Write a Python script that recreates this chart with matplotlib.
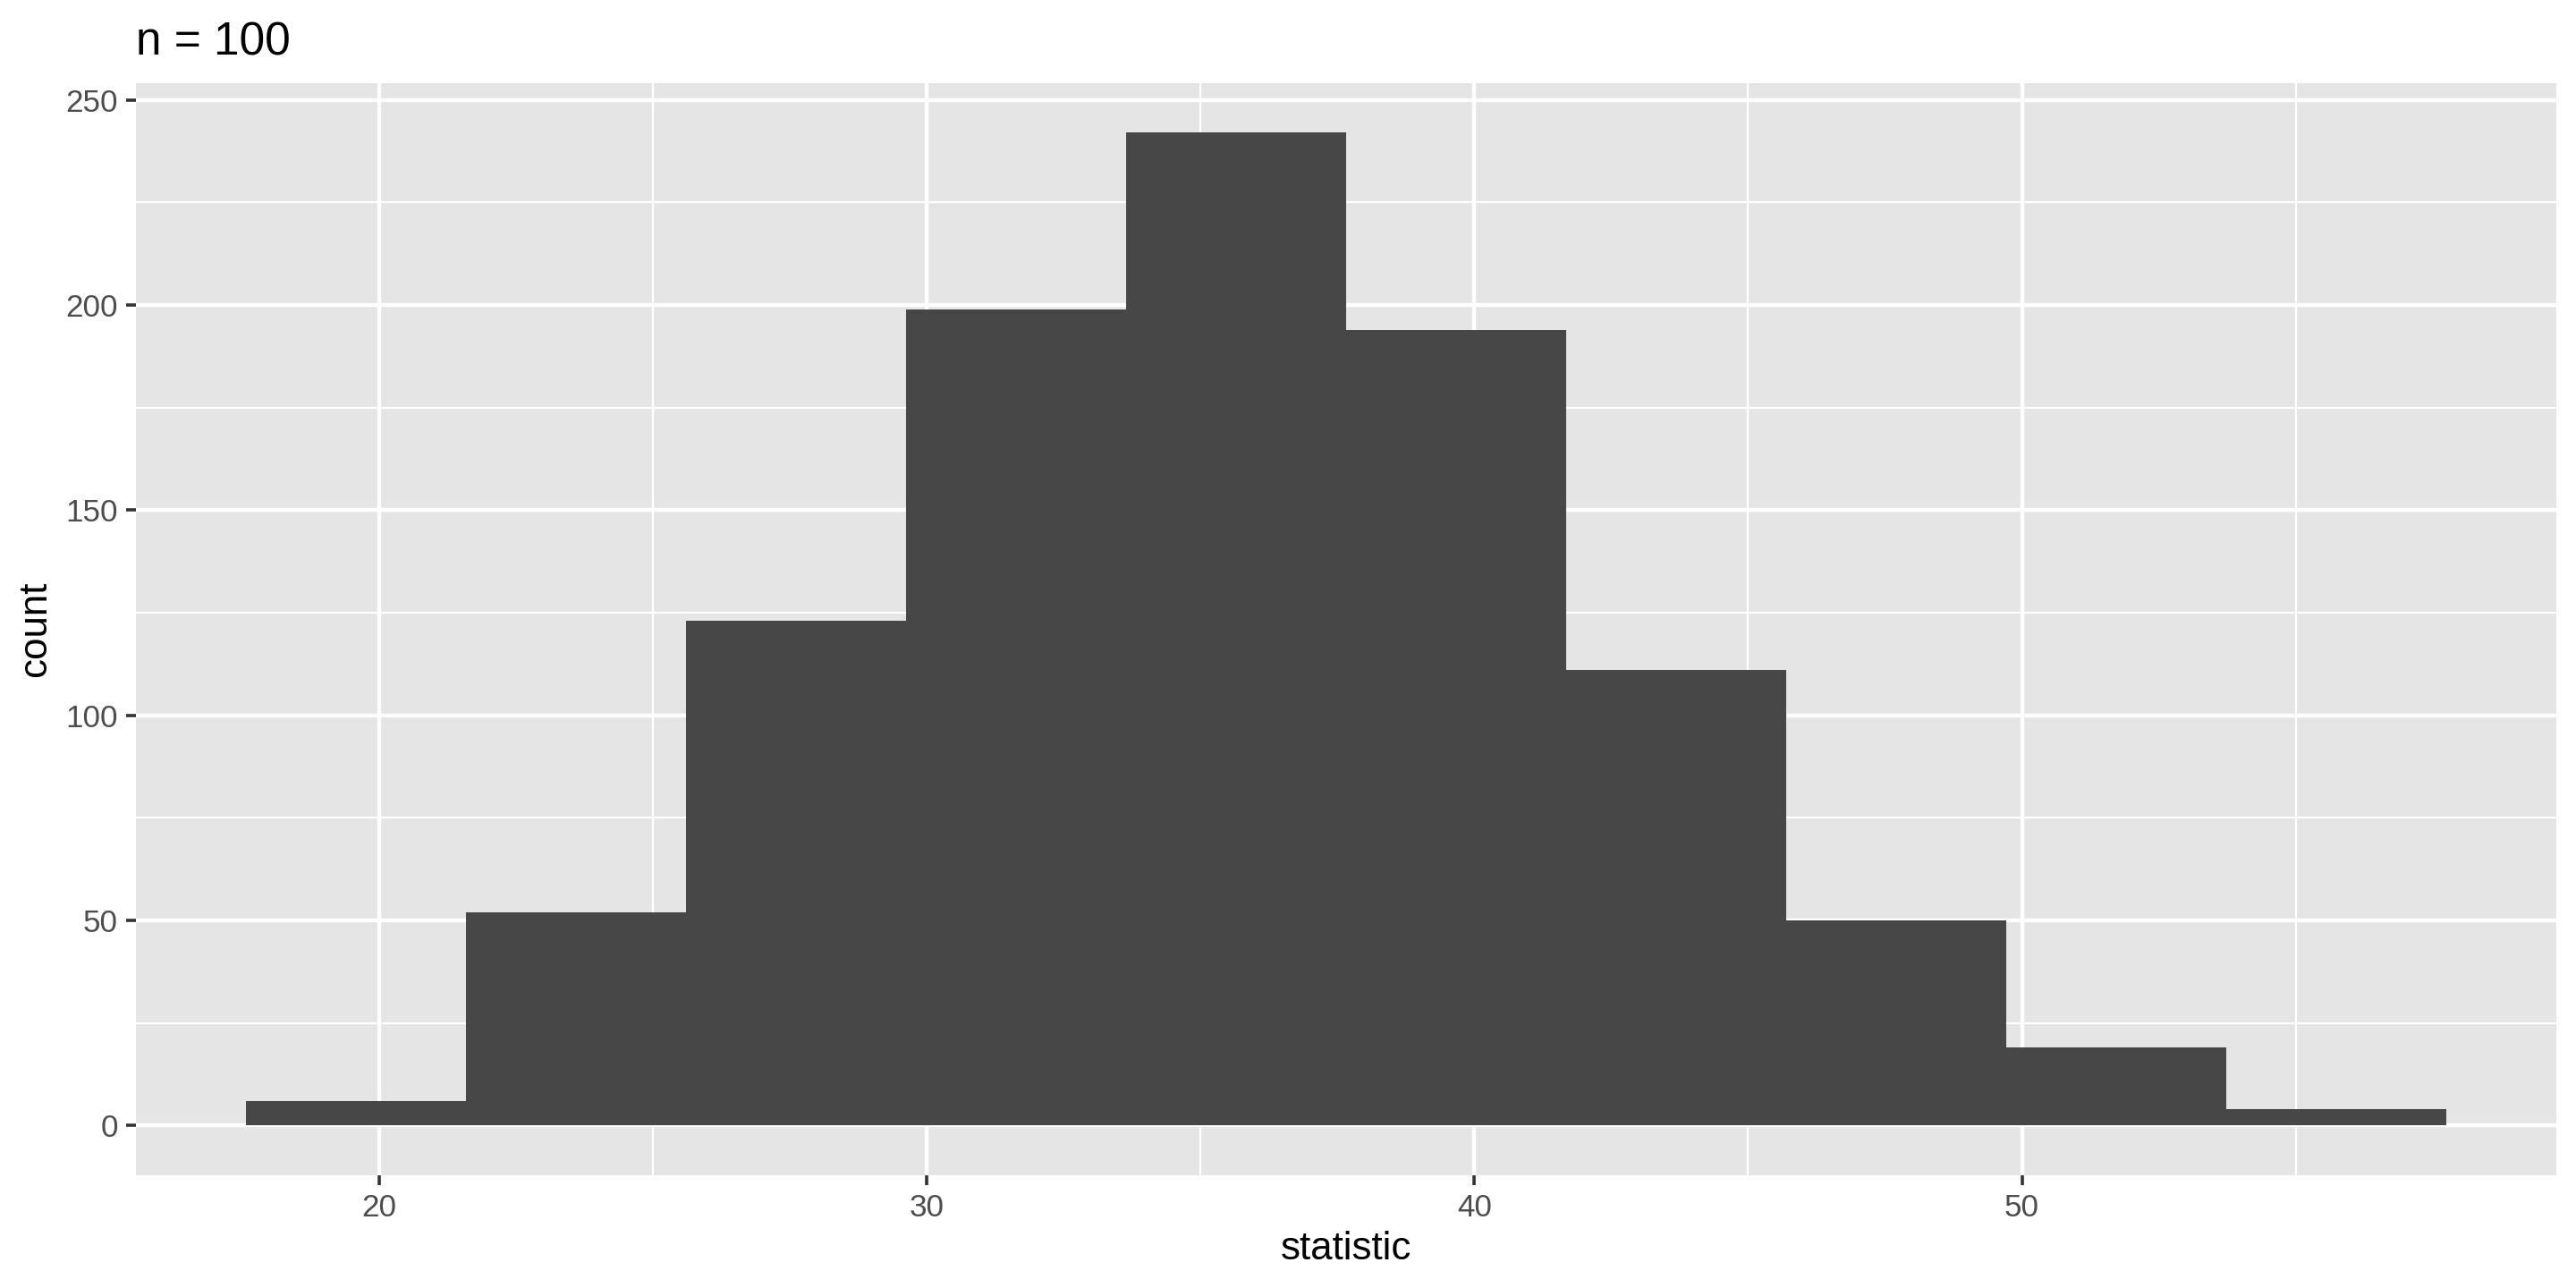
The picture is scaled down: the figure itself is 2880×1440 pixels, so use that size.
import matplotlib
matplotlib.use("Agg")
import matplotlib.pyplot as plt
from matplotlib.ticker import MultipleLocator

# histogram of the statistic (bins)
bin_edges = [17.57, 21.59, 25.61, 29.62, 33.64, 37.66, 41.68, 45.70, 49.71, 53.73, 57.75]
counts = [6, 52, 123, 199, 242, 194, 111, 50, 19, 4]
x_ticks = [20, 30, 40, 50]
y_ticks = [0, 50, 100, 150, 200, 250]

title = "n = 100"
x_label = "statistic"
y_label = "count"

plt.rcParams["font.family"] = ["Liberation Sans", "DejaVu Sans"]

fig = plt.figure(figsize=(14.4, 7.2), dpi=200)
fig.patch.set_facecolor("white")
ax = fig.add_axes([0.05278, 0.0877, 0.93958, 0.84772])
ax.set_facecolor("#E5E5E5")

lefts = bin_edges[:-1]
widths = [b - a for a, b in zip(bin_edges[:-1], bin_edges[1:])]
ax.bar(lefts, counts, width=widths, align="edge", color="#474747",
       linewidth=0, zorder=3)

# ggplot-like 5% expansion
span = bin_edges[-1] - bin_edges[0]
ax.set_xlim(bin_edges[0] - 0.05 * span, bin_edges[-1] + 0.05 * span)
ymax = max(counts)
ax.set_ylim(-0.05 * ymax, 1.05 * ymax)

ax.set_xticks(x_ticks)
ax.set_yticks(y_ticks)
ax.xaxis.set_minor_locator(MultipleLocator(5))
ax.yaxis.set_minor_locator(MultipleLocator(25))
ax.grid(which="major", color="white", linewidth=1.6, zorder=1)
ax.grid(which="minor", color="white", linewidth=0.8, zorder=1)
ax.set_axisbelow(True)

for s in ax.spines.values():
    s.set_visible(False)

ax.tick_params(which="major", length=4.1, width=1.3, color="#333333",
               labelsize=12.6, labelcolor="#4D4D4D", pad=3.2)
ax.tick_params(which="minor", length=0)

ax.set_title(title, loc="left", fontsize=18.5, color="black", pad=11.5)
ax.set_xlabel(x_label, fontsize=15.8, color="black", va="baseline")
ax.xaxis.set_label_coords(0.5, -0.0773)
ax.set_ylabel(y_label, fontsize=15.8, color="black", va="center")
ax.yaxis.set_label_coords(-0.0414, 0.5)

fig.savefig("out.png", dpi=200)
